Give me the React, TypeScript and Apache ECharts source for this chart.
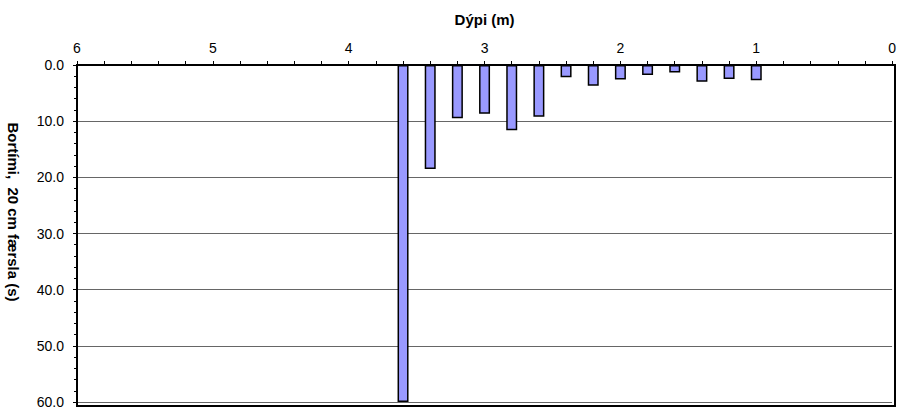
import React, { useEffect, useRef } from "react";
import * as echarts from "echarts";

const depths = [3.6, 3.4, 3.2, 3.0, 2.8, 2.6, 2.4, 2.2, 2.0, 1.8, 1.6, 1.4, 1.2, 1.0];
const drillTimes = [60, 18.5, 9.5, 8.7, 11.6, 9.2, 2.2, 3.7, 2.6, 1.8, 1.35, 3.0, 2.5, 2.7];
const xAxisTitle = "Dýpi (m)";
const yAxisTitle = "Bortími,  20 cm færsla (s)";

export default function App() {
  const ref = useRef<HTMLDivElement>(null);
  useEffect(() => {
    document.body.style.margin = "0";
    document.body.style.overflow = "hidden";
    if (!ref.current) return;
    const chart = echarts.init(ref.current, null, { renderer: "svg" });
    const font = "Arial, 'Liberation Sans', Helvetica, sans-serif";
    chart.setOption({
      animation: false,
      backgroundColor: "#ffffff",
      textStyle: { fontFamily: font },
      grid: { left: 77, right: 4, top: 65, bottom: 3, containLabel: false },
      xAxis: {
        type: "value",
        position: "top",
        inverse: true,
        min: 0,
        max: 6,
        interval: 1,
        name: xAxisTitle,
        nameLocation: "middle",
        nameGap: 38,
        nameTextStyle: { fontWeight: "bold", fontSize: 15, color: "#000", fontFamily: font },
        axisLine: { show: true, onZero: false, lineStyle: { color: "#000", width: 2 } },
        axisTick: { show: true, inside: false, length: 4, lineStyle: { color: "#000" } },
        minorTick: { show: true, splitNumber: 5, length: 4, lineStyle: { color: "#000" } },
        axisLabel: { color: "#000", fontSize: 14, margin: 10, fontFamily: font, showMaxLabel: true },
        splitLine: { show: false },
      },
      yAxis: {
        type: "value",
        inverse: true,
        min: 0,
        max: 60,
        interval: 10,
        axisLine: { show: true, onZero: false, lineStyle: { color: "#000", width: 2 } },
        axisTick: { show: true, inside: false, length: 4, lineStyle: { color: "#000" } },
        minorTick: { show: true, splitNumber: 5, length: 3, lineStyle: { color: "#000" } },
        axisLabel: {
          color: "#000",
          fontSize: 14,
          margin: 13,
          fontFamily: font,
          formatter: (v: number) => v.toFixed(1),
        },
        splitLine: { show: true, lineStyle: { color: "#666", width: 1 } },
      },
      graphic: [
        {
          type: "rect",
          shape: { x: 77, y: 65, width: 818, height: 341 },
          style: { fill: "none", stroke: "#000", lineWidth: 2 },
          silent: true,
          z: 100,
        },
        {
          type: "text",
          x: 13,
          y: 212,
          rotation: -Math.PI / 2,
          style: {
            text: yAxisTitle,
            fontFamily: font,
            fontSize: 15,
            fontWeight: "bold",
            fill: "#000",
            textAlign: "center",
            textVerticalAlign: "middle",
          },
        },
      ],
      series: [
        {
          type: "bar",
          data: depths.map((d, i) => [d, drillTimes[i]]),
          barWidth: 11,
          itemStyle: { color: "#9999ff", borderColor: "#000", borderWidth: 1.5 },
          clip: true,
        },
      ],
    });
    return () => chart.dispose();
  }, []);
  return (
    <div
      ref={ref}
      style={{ position: "absolute", left: 0, top: 0, width: 899, height: 409 }}
    />
  );
}
